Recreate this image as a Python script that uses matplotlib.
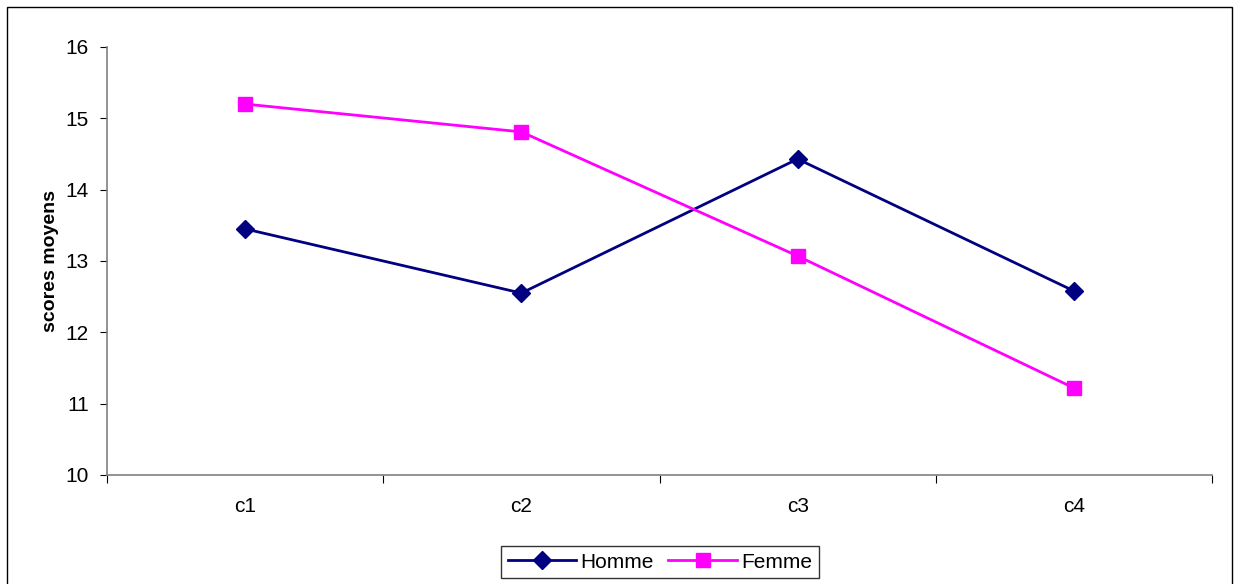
import matplotlib
matplotlib.use("Agg")
import matplotlib.pyplot as plt
from matplotlib.patches import Rectangle

categories = ["c1", "c2", "c3", "c4"]
homme = [13.45, 12.55, 14.43, 12.58]
femme = [15.20, 14.81, 13.07, 11.22]
yticks = [10, 11, 12, 13, 14, 15, 16]

plt.rcParams["font.family"] = ["Liberation Sans", "DejaVu Sans"]

fig = plt.figure(figsize=(12.41, 5.84), dpi=100)
fig.patch.set_facecolor("white")

# outer chart-area border
fig.patches.append(Rectangle((7 / 1241, -0.02), (1232 - 7) / 1241, 1 - 7 / 584 + 0.02,
                             transform=fig.transFigure, fill=False,
                             edgecolor="black", linewidth=1.0))

ax = fig.add_axes([107 / 1241, 1 - 475 / 584, (1212 - 107) / 1241, (475 - 47) / 584])
x = list(range(len(categories)))

ax.plot(x, homme, color="#000080", linewidth=2.0, marker="D", markersize=9.5,
        label="Homme")
ax.plot(x, femme, color="#FF00FF", linewidth=2.0, marker="s", markersize=10,
        label="Femme")

ax.set_xlim(-0.5, len(categories) - 0.5)
ax.set_ylim(10, 16)
ax.set_yticks(yticks)
ax.set_yticklabels([str(v) for v in yticks], fontsize=15)

# category labels centred, tick marks on category boundaries
ax.set_xticks([i - 0.5 for i in range(len(categories) + 1)])
ax.set_xticklabels([])
ax.set_xticks(x, minor=True)
ax.set_xticklabels(categories, minor=True, fontsize=15)
ax.tick_params(axis="x", which="minor", length=0, pad=16)
ax.tick_params(axis="x", which="major", length=6, direction="out", color="black")
ax.tick_params(axis="y", length=5, direction="out", color="black", pad=8)

for side in ["top", "right"]:
    ax.spines[side].set_visible(False)
for side in ["left", "bottom"]:
    ax.spines[side].set_color("#808080")
    ax.spines[side].set_linewidth(1.2)

ax.set_ylabel("scores moyens", fontsize=14, fontweight="bold", labelpad=5)

leg = fig.legend(loc="center", bbox_to_anchor=(660 / 1241, 1 - 562 / 584), ncol=2,
                 fontsize=15, frameon=True, fancybox=False, edgecolor="black",
                 handlelength=3.3, handletextpad=0.2, columnspacing=0.7,
                 borderpad=0.3)
leg.get_frame().set_linewidth(1.0)

fig.savefig("out.png", dpi=100, facecolor="white")
